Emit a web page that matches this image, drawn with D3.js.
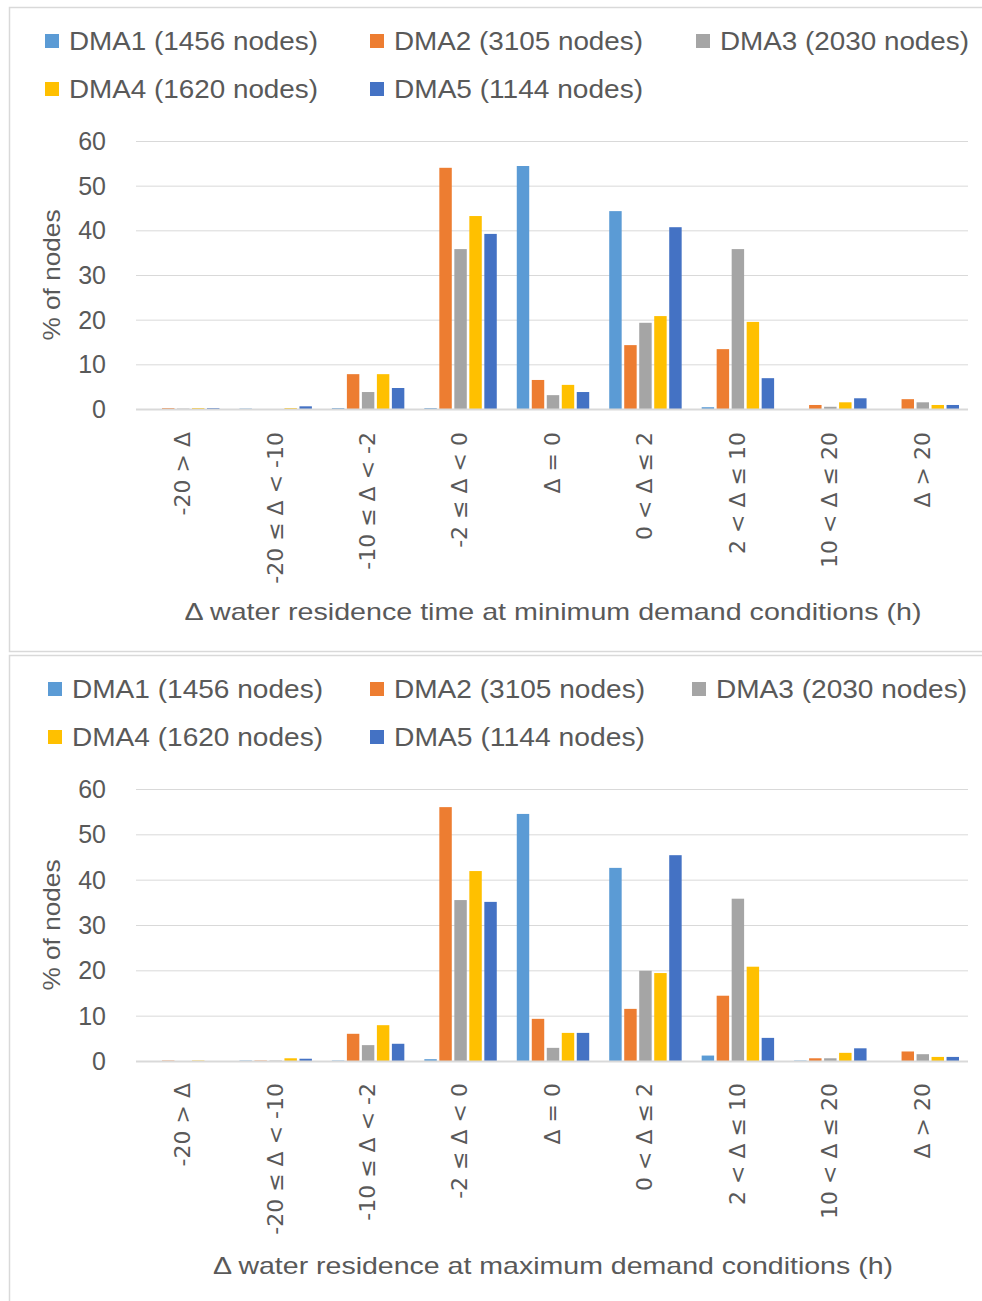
<!DOCTYPE html>
<html>
<head>
<meta charset="utf-8">
<script src="https://cdn.jsdelivr.net/npm/d3@7"></script>
<style>
  html, body { margin: 0; padding: 0; background: #ffffff; }
  svg { display: block; }
  text { fill: #595959; }
</style>
</head>
<body>
<svg id="chart" width="982" height="1301"></svg>
<script>
// Change in water residence time classes (h)
const categories = ["-20 > Δ", "-20 ≤ Δ < -10", "-10 ≤ Δ < -2", "-2 ≤ Δ < 0", "Δ = 0",
                    "0 < Δ ≤ 2", "2 < Δ ≤ 10", "10 < Δ ≤ 20", "Δ > 20"];

const seriesNames = ["DMA1 (1456 nodes)", "DMA2 (3105 nodes)", "DMA3 (2030 nodes)",
                     "DMA4 (1620 nodes)", "DMA5 (1144 nodes)"];
const seriesColors = ["#5B9BD5", "#ED7D31", "#A5A5A5", "#FFC000", "#4472C4"];

// % of nodes — minimum demand conditions
const minDMA1 = [0, 0.1, 0.2, 0.2, 54.4, 44.3, 0.4, 0, 0];
const minDMA2 = [0.2, 0, 7.8, 54.0, 6.5, 14.3, 13.4, 0.9, 2.2];
const minDMA3 = [0.1, 0, 3.8, 35.8, 3.1, 19.3, 35.8, 0.5, 1.5];
const minDMA4 = [0.2, 0.2, 7.8, 43.2, 5.4, 20.8, 19.5, 1.5, 0.9];
const minDMA5 = [0.2, 0.6, 4.7, 39.2, 3.8, 40.7, 6.9, 2.4, 0.9];

// % of nodes — maximum demand conditions
const maxDMA1 = [0, 0.1, 0.1, 0.4, 54.5, 42.6, 1.2, 0.1, 0];
const maxDMA2 = [0.1, 0.1, 6.0, 56.0, 9.3, 11.5, 14.4, 0.6, 2.1];
const maxDMA3 = [0, 0.1, 3.5, 35.5, 2.9, 19.9, 35.8, 0.6, 1.5];
const maxDMA4 = [0.1, 0.6, 7.9, 41.9, 6.2, 19.4, 20.8, 1.8, 0.9];
const maxDMA5 = [0, 0.5, 3.8, 35.1, 6.2, 45.4, 5.1, 2.8, 0.9];

const yTicks = [0, 10, 20, 30, 40, 50, 60];

const minTitle = "Δ water residence time at minimum demand conditions (h)";
const maxTitle = "Δ water residence at maximum demand conditions (h)";

const svg = d3.select("#chart");

function drawPanel(opts) {
  const g = svg.append("g");

  // panel frame
  g.append("rect")
    .attr("x", 9.5).attr("y", opts.frameTop)
    .attr("width", 990).attr("height", opts.frameHeight)
    .attr("fill", "none").attr("stroke", "#d9d9d9").attr("stroke-width", 1.5);

  // legend
  const legend = g.append("g");
  seriesNames.forEach((name, i) => {
    const row = Math.floor(i / 3), col = i % 3;
    const lx = opts.legendX[col], ly = opts.legendY[row];
    legend.append("rect")
      .attr("x", lx).attr("y", ly - 7)
      .attr("width", 14).attr("height", 14)
      .attr("fill", seriesColors[i]);
    legend.append("text")
      .attr("x", lx + 24).attr("y", ly)
      .attr("dy", "0.35em")
      .attr("font-family", "Liberation Sans, Arial, sans-serif")
      .attr("font-size", 25)
      .attr("textLength", opts.legendW)
      .attr("lengthAdjust", "spacingAndGlyphs")
      .text(name);
  });

  const x0 = d3.scaleBand().domain(categories).range([136, 968]).padding(0);
  const x1 = d3.scaleBand().domain(d3.range(seriesNames.length))
    .range([11, x0.bandwidth() - 9]).paddingInner(0.17).paddingOuter(0);
  const y = d3.scaleLinear().domain([0, 60]).range([opts.y0, opts.y60]);

  // gridlines
  g.append("g").selectAll("line").data(yTicks.filter(t => t > 0)).join("line")
    .attr("x1", 136).attr("x2", 968)
    .attr("y1", d => y(d) + 0.5).attr("y2", d => y(d) + 0.5)
    .attr("stroke", "#d9d9d9").attr("stroke-width", 1);

  // y tick labels
  g.append("g").selectAll("text").data(yTicks).join("text")
    .attr("x", 106).attr("y", d => y(d))
    .attr("dy", "0.36em")
    .attr("text-anchor", "end")
    .attr("font-family", "Liberation Sans, Arial, sans-serif")
    .attr("font-size", 25)
    .text(d => d);

  // y axis title
  g.append("text")
    .attr("transform", `translate(${52},${(opts.y0 + opts.y60) / 2}) rotate(-90)`)
    .attr("dy", "0.35em")
    .attr("text-anchor", "middle")
    .attr("font-family", "Liberation Sans, Arial, sans-serif")
    .attr("font-size", 24)
    .attr("textLength", 131)
    .attr("lengthAdjust", "spacingAndGlyphs")
    .text("% of nodes");

  // bars
  const groups = g.append("g").selectAll("g").data(categories).join("g")
    .attr("transform", d => `translate(${x0(d)},0)`);
  groups.selectAll("rect")
    .data((c, ci) => opts.series.map((s, si) => ({ si, v: s[ci] })))
    .join("rect")
    .attr("x", d => x1(d.si))
    .attr("width", x1.bandwidth())
    .attr("y", d => y(d.v))
    .attr("height", d => y(0) - y(d.v))
    .attr("fill", d => seriesColors[d.si]);

  // category axis line
  g.append("line")
    .attr("x1", 136).attr("x2", 968)
    .attr("y1", y(0) + 0.5).attr("y2", y(0) + 0.5)
    .attr("stroke", "#d9d9d9").attr("stroke-width", 2);

  // category labels (rotated)
  g.append("g").selectAll("text").data(categories).join("text")
    .attr("transform", d => `translate(${x0(d) + x0.bandwidth() / 2},${opts.tickTop}) rotate(-90)`)
    .attr("dy", "0.36em")
    .attr("text-anchor", "end")
    .attr("font-family", "DejaVu Sans, sans-serif")
    .attr("font-size", 22)
    .text(d => d);

  // x axis title
  g.append("text")
    .attr("x", opts.titleX).attr("y", opts.titleY)
    .attr("dy", "0.35em")
    .attr("text-anchor", "middle")
    .attr("font-family", "Liberation Sans, Arial, sans-serif")
    .attr("font-size", 24)
    .attr("textLength", opts.titleW)
    .attr("lengthAdjust", "spacingAndGlyphs")
    .text(opts.title);
}

drawPanel({
  frameTop: 7.5, frameHeight: 644,
  legendX: [45, 370, 696], legendY: [41, 89], legendW: 249,
  y0: 409, y60: 141, tickTop: 432,
  series: [minDMA1, minDMA2, minDMA3, minDMA4, minDMA5],
  title: minTitle, titleX: 553, titleY: 612, titleW: 737
});

drawPanel({
  frameTop: 655.5, frameHeight: 700,
  legendX: [48, 370, 692], legendY: [689, 737], legendW: 251,
  y0: 1061, y60: 789, tickTop: 1083,
  series: [maxDMA1, maxDMA2, maxDMA3, maxDMA4, maxDMA5],
  title: maxTitle, titleX: 553, titleY: 1266, titleW: 680
});
</script>
</body>
</html>
